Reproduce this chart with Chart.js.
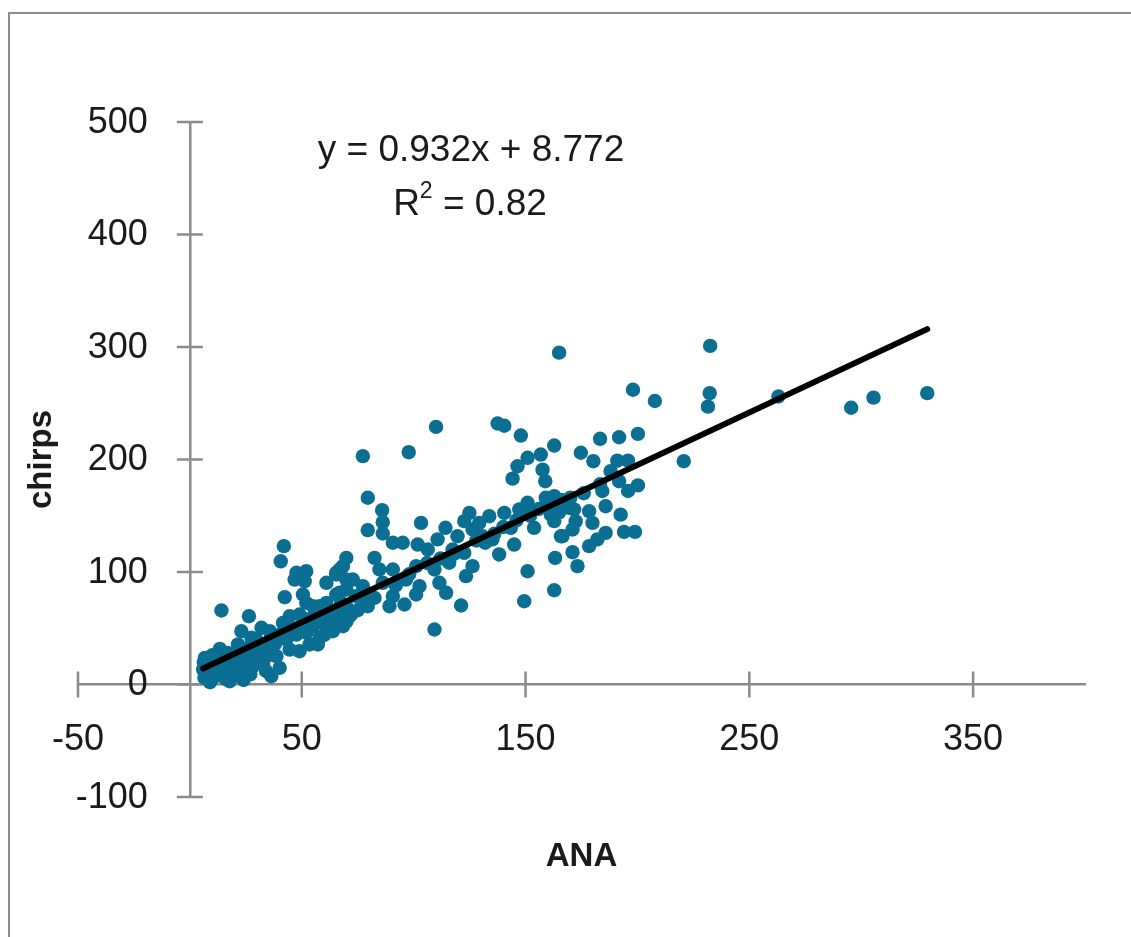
<!DOCTYPE html>
<html>
<head>
<meta charset="utf-8">
<script src="https://cdn.jsdelivr.net/npm/chart.js@4.4.1/dist/chart.umd.min.js"></script>
<style>
  html, body { margin: 0; padding: 0; background: #fff; overflow: hidden; }
  #frame { position: absolute; left: 8px; top: 12px; width: 1200px; height: 1000px; border-left: 2px solid #8c8c8c; border-top: 2px solid #8c8c8c; }
  #wrap { position: absolute; left: 0; top: 0; width: 1131px; height: 937px; }
</style>
</head>
<body>
<div id="frame"></div>
<div id="wrap"><canvas id="chart"></canvas></div>
<script>
// ANA (x) and chirps (y)
const anaValues = [
  329.5, 305.5, 295.5, 263, 232.5, 232.3, 231.5, 220.7, 207.8, 198,
  200.2, 191.8, 183.3, 165, 147.9, 137.5, 140.5, 110, 97.8, 77.3,
  162.8, 174.7, 180.3, 191, 195.8, 188, 191.8, 200.2, 195.8, 184.3,
  183.3, 185.8, 192.5, 178.4, 171.7, 168, 165, 172.4, 179.9, 171,
  166.5, 194, 198.9, 185.8, 182.1, 178.4, 171, 156.8, 150.9, 146.4,
  157.6, 144.2, 158.8, 159, 162.8, 150.9, 147.2, 140.5, 133.8, 129.3,
  143.4, 153.8, 161.3, 162.8, 169.5, 135.2, 144.9, 165.8, 138.2, 163.2,
  173.2, 150.9, 162.8, 149.4, 79.5, 85.9, 86.2, 79.5, 86.2, 103.3,
  114.2, 124.9, 122.6, 90.7, 95.1, 101.8, 110.7, 119.6, 126.3, 130.8,
  69.9, 82.5, 106.3, 117.4, 122.6, 84.7, 90.7, 66.9, 101.1, 109.3,
  115.9, 126.3, 123.4, 69.9, 77.3, 86.2, 96.6, 102.6, 111.5, 114.5,
  66.9, 74.3, 82.5, 90.7, 101.1, 69.9, 79.5, 89.2, 95.9, 66.9,
  71.3, 121.2, 109.3, 42, 40.6, 47.6, 52, 46.8, 51.3, 61,
  65.4, 68.4, 42.4, 14.1, 26.4, 50.5, 52, 55, 65.4, 61,
  67.6, 69.9, 23, 32, 35.7, 27.5, 41.6, 44.6, 49, 52,
  56.5, 59.4, 63.9, 58, 55, 52, 47.6, 43.1, 44.6, 49,
  53.5, 57.2, 63.9, 68.4, 40.1, 36.4, 13.4, 21.5, 29.7, 35.7,
  38.7, 6.7, 5.9, 8.9, 14.9, 19.3, 25.3, 31.2, 14.9, 19.3,
  23.8, 28.2, 32.7, 10.4, 17.8, 7.4, 11.9, 72.8, 65.4, 6.2,
  6.5, 9, 12, 16, 21, 22, 25, 27, 30, 33,
  34, 38, 26, 17, 10, 20, 24, 60, 66, 72,
  75, 58, 70, 80, 92, 98, 106, 112, 118, 128,
  132, 136, 140, 146, 152, 156, 160, 166, 170, 176,
  78, 62, 55, 48, 40, 36, 29, 35, 45, 56,
  61, 9, 15, 44, 31
]
const chirpValues = [
  259, 255, 246, 256, 301, 259, 247, 198.5, 252, 262,
  222.8, 219.8, 218.4, 295, 221.3, 232, 230, 229, 206.5, 203,
  212.4, 206, 198.5, 199, 199, 189.6, 180.7, 177, 172, 172,
  178, 158.5, 151, 154, 155.6, 161.5, 153, 145, 143.7, 137.8,
  131.8, 135.7, 135.7, 134.8, 129, 123, 117.6, 204.4, 201.5, 194,
  191, 183, 180.7, 166, 167.4, 161.5, 155.6, 152.6, 149.6, 143.7,
  139.3, 139.3, 151, 145.2, 157, 129, 124.4, 131.8, 115.6, 112.6,
  105.2, 100.7, 83.8, 74, 166, 155, 144.3, 137.2, 134.2, 143.7,
  139.3, 152.6, 145.2, 126, 126, 124.4, 129, 131.8, 137.8, 131.8,
  112.6, 112.6, 120, 120, 117, 102.2, 102.2, 102.2, 105.2, 102.2,
  108.2, 105.2, 96.3, 93.3, 87.4, 90.4, 93.3, 87.4, 90.4, 81.5,
  81.5, 78.5, 77, 78.5, 80, 69.6, 69.6, 69.6, 71.1, 63.7,
  60.7, 70.2, 48.9, 123, 109.5, 99.3, 100.7, 93.3, 91.8, 90.4,
  97.8, 105.2, 77.6, 65.8, 60.7, 80, 72.6, 69.6, 80, 72.6,
  72.6, 84.4, 47.4, 50.4, 47.4, 41.5, 54.8, 60.7, 62.2, 57.8,
  60.7, 54.8, 51.8, 69.6, 51.8, 46, 44.4, 40, 31, 29.6,
  35.6, 35.6, 47.4, 51.8, 14.8, 7.4, 31.7, 35.6, 40, 34,
  25.2, 23.7, 13.3, 10.4, 22.2, 25.2, 28.1, 28.1, 8.9, 10.4,
  13.3, 16.3, 19.3, 6, 2.9, 16.3, 17.8, 93.3, 99.3, 20,
  6, 2, 12, 5, 18, 8, 22, 9, 24, 30,
  12, 36, 32, 28, 26, 14, 4, 44, 56, 62,
  66, 42, 56, 80, 88, 98, 108, 112, 116, 128,
  126, 134, 140, 146, 150, 156, 158, 164, 166, 170,
  74, 66, 60, 50, 44, 40, 34, 26, 48, 64,
  58, 14, 18, 52, 36
]
const xTickValues = [-50, 50, 150, 250, 350]
const yTickValues = [-100, 0, 100, 200, 300, 400, 500]
// linear trendline as printed on the chart
const trendSlope = 0.932
const trendIntercept = 8.772
const rSquared = 0.82

const axisColor = '#8c8c8c'
const textColor = '#1a1a1a'
const fontFamily = '"Liberation Sans", Arial, sans-serif'

const points = anaValues.map((x, i) => ({ x, y: chirpValues[i] }))
const xMin = Math.min(...anaValues)
const xMax = Math.max(...anaValues)
const trendPoints = [
  { x: xMin, y: trendSlope * xMin + trendIntercept },
  { x: xMax, y: trendSlope * xMax + trendIntercept }
]

// excel style tick marks that cross the axis line
const crossTicks = {
  id: 'crossTicks',
  beforeDatasetsDraw (chart) {
    const { ctx, scales } = chart
    const x0 = scales.x.getPixelForValue(0)
    const y0 = scales.y.getPixelForValue(0)
    ctx.save()
    ctx.strokeStyle = axisColor
    ctx.lineWidth = 2.5
    ctx.beginPath()
    scales.x.ticks.forEach((t) => {
      const px = scales.x.getPixelForValue(t.value)
      ctx.moveTo(px, y0 - 13)
      ctx.lineTo(px, y0 + 13)
    })
    scales.y.ticks.forEach((t) => {
      const py = scales.y.getPixelForValue(t.value)
      ctx.moveTo(x0 - 13, py)
      ctx.lineTo(x0 + 13, py)
    })
    ctx.stroke()
    // y labels sit left of the axis (chart.js ignores padding for a value-positioned y axis)
    ctx.fillStyle = textColor
    ctx.font = `36px ${fontFamily}`
    ctx.textAlign = 'right'
    ctx.textBaseline = 'middle'
    scales.y.ticks.forEach((t) => {
      ctx.fillText(String(t.value), x0 - 42, scales.y.getPixelForValue(t.value) + 1)
    })
    ctx.restore()
  }
}

// axis titles and trendline label
const labels = {
  id: 'labels',
  afterDraw (chart) {
    const { ctx, chartArea } = chart
    const cx = (chartArea.left + chartArea.right) / 2
    const cy = (chartArea.top + chartArea.bottom) / 2
    ctx.save()
    ctx.fillStyle = textColor
    ctx.textAlign = 'center'
    ctx.textBaseline = 'middle'
    ctx.font = `bold 33px ${fontFamily}`
    ctx.fillText('ANA', cx, 857)
    ctx.save()
    ctx.translate(42, cy)
    ctx.rotate(-Math.PI / 2)
    ctx.fillText('chirps', 0, 0)
    ctx.restore()

    ctx.font = `37px ${fontFamily}`
    ctx.fillText(`y = ${trendSlope}x + ${trendIntercept}`, 471, 151)
    // R² with a raised 2
    const head = 'R'
    const tail = ` = ${rSquared}`
    const wHead = ctx.measureText(head).width
    const wTail = ctx.measureText(tail).width
    ctx.font = `23px ${fontFamily}`
    const wSup = ctx.measureText('2').width
    const start = 470 - (wHead + wSup + wTail) / 2
    ctx.textAlign = 'left'
    ctx.fillText('2', start + wHead, 192)
    ctx.font = `37px ${fontFamily}`
    ctx.fillText(head, start, 205)
    ctx.fillText(tail, start + wHead + wSup, 205)
    ctx.restore()
  }
}

new Chart(document.getElementById('chart'), {
  type: 'scatter',
  data: {
    datasets: [
      {
        type: 'line',
        data: trendPoints,
        borderColor: '#000',
        borderWidth: 6,
        borderCapStyle: 'round',
        pointRadius: 0,
        fill: false,
        order: 0
      },
      {
        data: points,
        backgroundColor: '#0b6e93',
        borderWidth: 0,
        pointRadius: 7.2,
        order: 1
      }
    ]
  },
  options: {
    responsive: true,
    maintainAspectRatio: false,
    animation: false,
    layout: { padding: { left: 78, top: 122, right: 46, bottom: 140 } },
    plugins: {
      legend: { display: false },
      tooltip: { enabled: false }
    },
    scales: {
      x: {
        type: 'linear',
        min: -50,
        max: 400,
        position: { y: 0 },
        afterBuildTicks: (s) => { s.ticks = xTickValues.map(v => ({ value: v })) },
        grid: { display: false, drawTicks: false },
        border: { color: axisColor, width: 2.5 },
        ticks: {
          color: textColor,
          font: { family: fontFamily, size: 36 },
          padding: 34,
          maxRotation: 0,
          autoSkip: false
        }
      },
      y: {
        type: 'linear',
        min: -100,
        max: 500,
        position: { x: 0 },
        afterBuildTicks: (s) => { s.ticks = yTickValues.map(v => ({ value: v })) },
        grid: { display: false, drawTicks: false },
        border: { color: axisColor, width: 2.5 },
        ticks: { display: false }
      }
    }
  },
  plugins: [crossTicks, labels]
})
</script>
</body>
</html>
